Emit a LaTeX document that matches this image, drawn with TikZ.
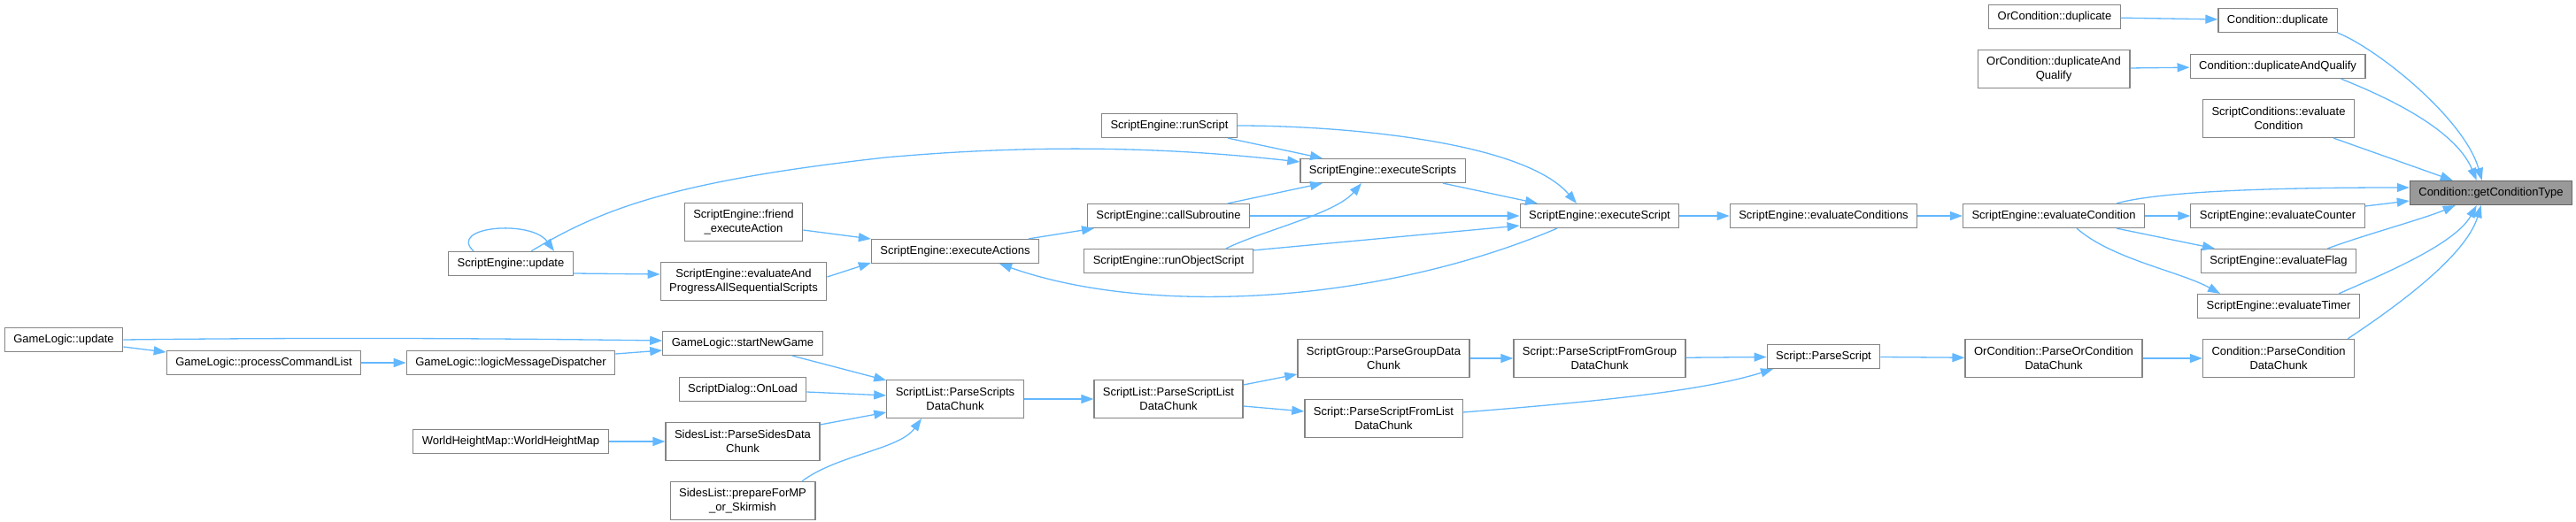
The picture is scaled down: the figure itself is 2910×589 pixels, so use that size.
\documentclass[tikz,border=0pt]{standalone}
\usepackage{fontspec}
\setmainfont{Liberation Sans}
\usetikzlibrary{arrows.meta}

\definecolor{edgeblue}{HTML}{63B8FF}
\definecolor{boxline}{HTML}{858585}
\definecolor{mainfill}{HTML}{999999}
\definecolor{mainline}{HTML}{666666}

\begin{document}
\begin{tikzpicture}[
    x=1pt,
    y=-1pt,
    font=\fontsize{13}{16}\selectfont,
    fn/.style={draw=boxline, fill=white, line width=1.2pt, inner xsep=10pt,
      inner ysep=2pt, minimum height=27pt},
    fn2/.style={fn, align=center, minimum height=43pt},
    fnmain/.style={fn, fill=mainfill, draw=mainline},
    call/.style={edgeblue, line width=1.3pt, -{Triangle[length=14pt,width=10pt]}}
  ]
    \useasboundingbox (0,0) rectangle (2910,589);

    % Ziel des Aufrufgraphen
    \node[fnmain] (getType) at (2814,218) {Condition::getConditionType};

    % --- Spalte 2574 ---
    \node[fn] (condDup) at (2573,23) {Condition::duplicate};
    \node[fn] (condDupQ) at (2573,75) {Condition::duplicateAndQualify};
    \node[fn2] (scEval) at (2574,134) {ScriptConditions::evaluate\\Condition};
    \node[fn] (evalCounter) at (2573,244) {ScriptEngine::evaluateCounter};
    \node[fn] (evalFlag) at (2574,295) {ScriptEngine::evaluateFlag};
    \node[fn] (evalTimer) at (2574,346) {ScriptEngine::evaluateTimer};
    \node[fn2] (condParse) at (2574,405) {Condition::ParseCondition\\DataChunk};

    % --- Spalte 2320 ---
    \node[fn] (orDup) at (2321,19) {OrCondition::duplicate};
    \node[fn2] (orDupQ) at (2320,78) {OrCondition::duplicateAnd\\Qualify};
    \node[fn] (evalCond) at (2320,244) {ScriptEngine::evaluateCondition};
    \node[fn2] (orParse) at (2320,405) {OrCondition::ParseOrCondition\\DataChunk};

    % --- Spalte 2060 ---
    \node[fn] (evalConds) at (2060,244) {ScriptEngine::evaluateConditions};
    \node[fn] (parseScript) at (2060,403) {Script::ParseScript};

    % --- Spalte 1807 ---
    \node[fn] (execScript) at (1807,244) {ScriptEngine::executeScript};
    \node[fn2] (fromGroup) at (1807,405) {Script::ParseScriptFromGroup\\DataChunk};

    % --- Spalte 1563 ---
    \node[fn] (execScripts) at (1562,193) {ScriptEngine::executeScripts};
    \node[fn2] (groupParse) at (1563,405) {ScriptGroup::ParseGroupData\\Chunk};
    \node[fn2] (fromList) at (1563,473) {Script::ParseScriptFromList\\DataChunk};

    % --- Spalte 1320 ---
    \node[fn] (runScript) at (1321,142) {ScriptEngine::runScript};
    \node[fn] (callSub) at (1320,244) {ScriptEngine::callSubroutine};
    \node[fn] (runObj) at (1320,295) {ScriptEngine::runObjectScript};
    \node[fn2] (listParse) at (1320,451) {ScriptList::ParseScriptList\\DataChunk};

    % --- Spalte 1079 ---
    \node[fn] (execActions) at (1079,284) {ScriptEngine::executeActions};
    \node[fn2] (scriptsParse) at (1079,451) {ScriptList::ParseScripts\\DataChunk};

    % --- Spalte 839 ---
    \node[fn2] (friendExec) at (840,251) {ScriptEngine::friend\\\_executeAction};
    \node[fn2] (evalProg) at (840,318) {ScriptEngine::evaluateAnd\\ProgressAllSequentialScripts};
    \node[fn] (startGame) at (839,388) {GameLogic::startNewGame};
    \node[fn] (onLoad) at (839,440) {ScriptDialog::OnLoad};
    \node[fn2] (sidesParse) at (839,499) {SidesList::ParseSidesData\\Chunk};
    \node[fn2] (prepMP) at (839,566) {SidesList::prepareForMP\\\_or\_Skirmish};

    % --- Spalten 577, 298, 72 ---
    \node[fn] (seUpdate) at (577,298) {ScriptEngine::update};
    \node[fn] (logicDisp) at (577,410) {GameLogic::logicMessageDispatcher};
    \node[fn] (worldHM) at (577,499) {WorldHeightMap::WorldHeightMap};
    \node[fn] (procCmd) at (298,410) {GameLogic::processCommandList};
    \node[fn] (glUpdate) at (72,384) {GameLogic::update};

    % gerade Kanten
    \foreach \a/\b in {orDup/condDup, orDupQ/condDupQ, evalConds/evalCond,
        evalCond/evalCounter, parseScript/orParse, orParse/condParse,
        execScript/evalConds, fromGroup/parseScript, groupParse/fromGroup,
        scriptsParse/listParse, worldHM/sidesParse, procCmd/logicDisp,
        callSub/execScript} {
      \draw[call] (\a) -- (\b);
    }

    % Kanten nach getConditionType
    \draw[call] (condDup.south east) .. controls +(45,18) and +(-20,-70)
      .. ([xshift=82pt]getType.north west);
    \draw[call] ([xshift=-28pt]condDupQ.south east) .. controls +(45,18) and +(-25,-60)
      .. ([xshift=76pt]getType.north west);
    \draw[call] ([xshift=-24pt]scEval.south east) -- ([xshift=49pt]getType.north west);
    \draw[call] ([xshift=71pt]evalCond.north) .. controls +(50,-14) and +(-150,0)
      .. ([yshift=6pt]getType.west);
    \draw[call] ([yshift=11pt]evalCounter.east) -- ([yshift=-9pt]getType.west);
    \draw[call] ([xshift=-33pt]evalFlag.north east) .. controls +(40,-15) and +(-35,15)
      .. ([xshift=52pt]getType.south west);
    \draw[call] ([xshift=-24pt]evalTimer.north east) .. controls +(45,-20) and +(-25,45)
      .. ([xshift=76pt]getType.south west);
    \draw[call] ([xshift=-8pt]condParse.north east) .. controls +(45,-30) and +(-18,60)
      .. ([xshift=81pt]getType.south west);

    % evaluateCondition
    \draw[call] ([xshift=71pt]evalCond.south) -- ([xshift=-72pt]evalFlag.north);
    \draw[call] ([xshift=26pt]evalCond.south) .. controls +(40,35) and +(-45,-25)
      .. ([xshift=-66pt]evalTimer.north);

    % Skript-Ausfuehrung
    \draw[call] ([xshift=66pt]runScript.south) -- ([xshift=-68pt]execScripts.north);
    \draw[call] (runScript.east) .. controls +(120,0) and +(-60,-70)
      .. ([xshift=-26pt]execScript.north);
    \draw[call] ([xshift=68pt]execScripts.south) -- ([xshift=-70pt]execScript.north);
    \draw[call] ([xshift=67pt]callSub.north) -- ([xshift=-68pt]execScripts.south);
    \draw[call] ([xshift=65pt]runObj.north) .. controls +(40,-20) and +(-30,35)
      .. ([xshift=-24pt]execScripts.south);
    \draw[call] ([yshift=-2pt]runObj.north east) -- ([yshift=-11pt]execScript.west);
    \draw[call] ([xshift=-48pt]execScript.south) .. controls +(-200,85) and +(170,60)
      .. ([xshift=50pt]execActions.south);
    \draw[call] ([xshift=83pt]execActions.north) -- ([xshift=-84pt]callSub.south);
    \draw[call] ([yshift=-9pt]friendExec.east) -- ([yshift=14pt]execActions.west);
    \draw[call] ([yshift=5pt]evalProg.east) -- ([yshift=-13pt]execActions.west);
    \draw[call] ([yshift=-11pt]seUpdate.east) -- ([yshift=8pt]evalProg.west);
    \draw[call] ([xshift=23pt]seUpdate.north) .. controls +(80,-48) and +(-240,27)
      .. (1000,178) .. controls +(200,-18) and +(-117,-13)
      .. ([yshift=10pt]execScripts.west);
    \draw[call] ([xshift=-42pt]seUpdate.north) .. controls +(-30,-28) and +(-26,-36)
      .. ([xshift=49pt]seUpdate.north);

    % GameLogic
    \draw[call] (glUpdate.east) .. controls +(250,-3) and +(-150,-2)
      .. ([yshift=3pt]startGame.west);
    \draw[call] ([yshift=-8pt]glUpdate.east) -- ([yshift=12pt]procCmd.west);
    \draw[call] ([yshift=10pt]logicDisp.east) -- ([yshift=-8pt]startGame.west);

    % Parsen
    \draw[call] ([xshift=56pt]startGame.south) -- ([yshift=-1pt]scriptsParse.north west);
    \draw[call] ([yshift=-3pt]onLoad.east) -- ([yshift=4pt]scriptsParse.west);
    \draw[call] ([yshift=19pt]sidesParse.east) -- ([yshift=-15pt]scriptsParse.west);
    \draw[call] ([xshift=67pt]prepMP.north) .. controls +(40,-30) and +(-25,35)
      .. ([xshift=-38pt]scriptsParse.south);
    \draw[call] ([yshift=16pt]listParse.east) -- ([yshift=-18pt]groupParse.west);
    \draw[call] ([yshift=-8pt]listParse.east) -- ([yshift=8pt]fromList.west);
    \draw[call] ([yshift=7pt]fromList.east) .. controls +(150,-12) and +(-80,25)
      .. ([xshift=-57pt]parseScript.south);
  \end{tikzpicture}
\end{document}
